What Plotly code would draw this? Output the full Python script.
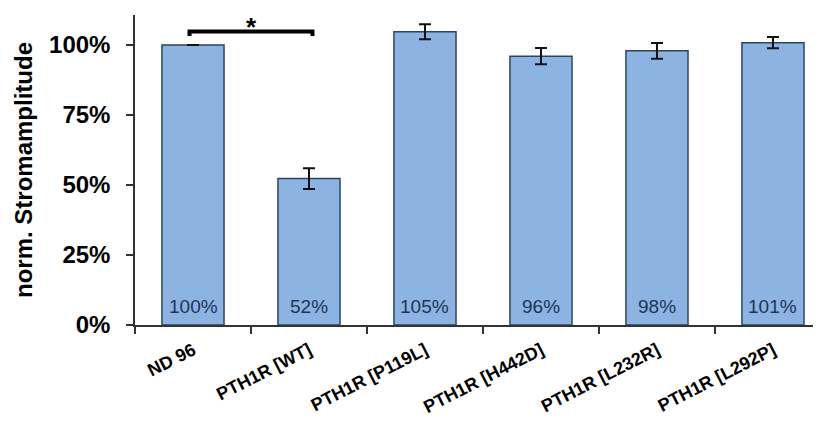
import plotly.graph_objects as go

categories = ["ND 96", "PTH1R [WT]", "PTH1R [P119L]", "PTH1R [H442D]", "PTH1R [L232R]", "PTH1R [L292P]"]
values = [100, 52.3, 104.7, 96.0, 97.9, 100.8]
errors = [0, 3.7, 2.7, 2.9, 2.8, 2.0]
value_labels = ["100%", "52%", "105%", "96%", "98%", "101%"]
y_ticks = [0, 25, 50, 75, 100]
y_tick_labels = ["0%", "25%", "50%", "75%", "100%"]

fig = go.Figure()
fig.add_trace(go.Bar(
    x=categories, y=values,
    width=0.535,
    marker=dict(color="#8DB3E2", line=dict(color="#2B4660", width=1.5)),
    error_y=dict(type="data", array=errors, visible=True, color="#111111", thickness=2, width=6),
    showlegend=False,
))

for c, lab in zip(categories, value_labels):
    fig.add_annotation(x=c, y=0, text=lab, showarrow=False, yanchor="bottom", yshift=6,
                       font=dict(family="Liberation Sans, Arial", size=19, color="#1C355A"))

# significance bracket between ND 96 and PTH1R [WT]
fig.add_shape(type="path", xref="x", yref="y",
              path="M -0.03,103.2 L -0.03,104.8 L 1.03,104.8 L 1.03,103.2",
              line=dict(color="#000000", width=4))
fig.add_annotation(x=0.5, y=104.8, text="<b>*</b>", showarrow=False, yanchor="bottom", yshift=-12,
                   font=dict(family="Liberation Sans, Arial", size=26, color="#000000"))

# page body has an 8px default margin, so the figure is 8px smaller and margins offset
fig.update_layout(
    width=813, height=413,
    margin=dict(l=127, r=0, t=7, b=96),
    paper_bgcolor="white", plot_bgcolor="white",
    font=dict(family="Liberation Sans, Arial", color="#000000"),
    bargap=0.465,
)
fig.update_xaxes(
    type="category", range=[-0.5, 5.414], automargin=False,
    showline=True, linecolor="#333333", linewidth=2,
    ticks="outside", ticklen=7, tickwidth=1.5, tickcolor="#333333",
    tickson="boundaries", tickangle=-27,
    ticklabelshift=0, ticklabelstandoff=6,
    tickfont=dict(family="Liberation Sans, Arial", size=18, color="#000000", weight="bold"),
    showgrid=False,
)
fig.update_yaxes(
    range=[0, 110.7], automargin=False,
    tickvals=y_ticks, ticktext=y_tick_labels,
    showline=True, linecolor="#333333", linewidth=1.5,
    ticks="outside", ticklen=7, tickwidth=1.5, tickcolor="#333333",
    ticklabelstandoff=11,
    tickfont=dict(family="Liberation Sans, Arial", size=24, color="#000000", weight="bold"),
    showgrid=False, zeroline=False,
    title=dict(text="norm. Stromamplitude", standoff=10,
               font=dict(family="Liberation Sans, Arial", size=24, color="#000000", weight="bold")),
)

fig.write_html("out.html")
